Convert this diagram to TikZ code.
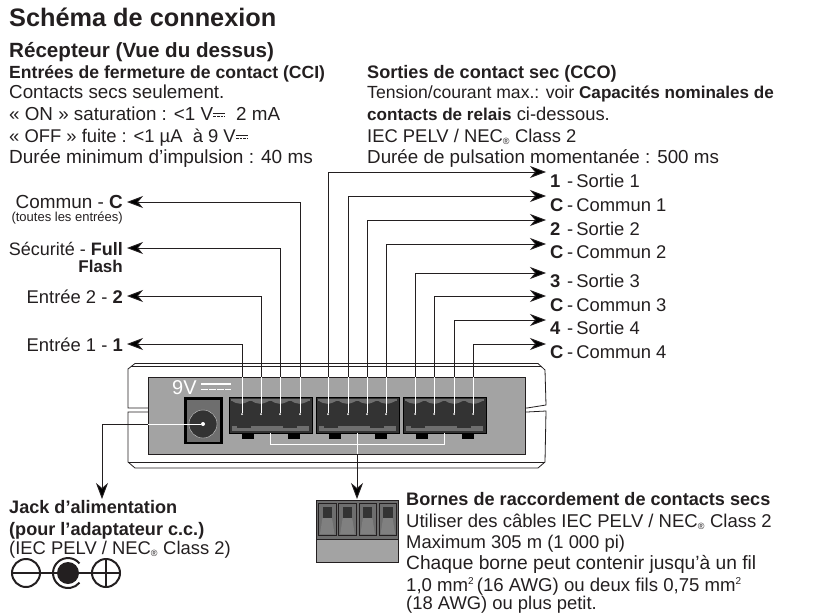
\documentclass[tikz,border=0pt]{standalone}
\usepackage{fontspec}
\setmainfont{Liberation Sans}
\usetikzlibrary{arrows.meta,positioning,calc}
\definecolor{ink}{HTML}{231F20}
\definecolor{facegray}{HTML}{A3A3A3}
\definecolor{midgray}{HTML}{6E6E6E}
\definecolor{portgray}{HTML}{333333}
\newcommand{\dcsym}{\tikz[baseline=0pt,x=1pt,y=1pt]{\draw[ink, line width=.6pt] (0,6.6)--(12,6.6); \draw[ink, line width=.6pt,dash pattern=on 2.6pt off 1pt] (0,3.6)--(12,3.6);}}
\newcommand{\regmark}{\textsubscript{\fontsize{9}{9}\selectfont ®}}
\newcommand{\sqmark}{\raisebox{7pt}{\fontsize{10}{10}\selectfont 2}}
\newcommand{\sz}[1]{\fontsize{#1}{21}\selectfont}
\begin{document}
\begin{tikzpicture}[x=1pt,y=-1pt,font=\fontsize{18.4}{21}\selectfont,text=ink]
  \tikzstyle{txt}=[inner sep=0pt, anchor=base west, align=left]
  \tikzstyle{head}=[txt, font=\fontsize{18.1}{21}\selectfont\bfseries]
  \tikzstyle{inlabel}=[inner sep=0pt, anchor=base east, align=right]
  \tikzstyle{wire}=[draw=ink, line width=.9pt]
  \tikzstyle{wirearrow}=[wire, -{Stealth[length=16pt,width=12pt,inset=5pt]}]
  \tikzstyle{whitewire}=[draw=white, line width=.9pt]
  \tikzstyle{pin}=[circle, fill=white, inner sep=0pt, minimum size=2pt]
  \tikzstyle{housing}=[draw=ink, line width=.8pt, fill=white]
  \tikzstyle{polar}=[circle, draw=ink, line width=2pt, minimum size=28pt, inner sep=0pt]
  \useasboundingbox (0,0) rectangle (827,613);

  % titres
  \node[txt, font=\fontsize{25.3}{28}\selectfont\bfseries] (title) at (9,26) {Schéma de connexion};
  \node[txt, font=\fontsize{20.6}{24}\selectfont\bfseries] (recv) at (9,57) {Récepteur (Vue du dessus)};

  % entrees
  \node[head, font=\fontsize{17.6}{21}\selectfont\bfseries] (cci) at (9,78) {Entrées de fermeture de contact (CCI)};
  \node[txt, font=\sz{18.8}] (cci1) at (9,98) {Contacts secs seulement.};
  \node[txt, font=\sz{18.8}] (cci2) at (9,120) {« ON » saturation : <1 V\dcsym\ \ 2 mA};
  \node[txt] (cci3) at (9,142) {« OFF » fuite : <1 µA \ à 9 V\dcsym};
  \node[txt, font=\sz{19}] (cci4) at (9,163) {Durée minimum d’impulsion : 40 ms};

  % sorties
  \node[head] (cco) at (367,78) {Sorties de contact sec (CCO)};
  \node[txt, font=\sz{17.6}] (cco1) at (367,98) {Tension/courant max.: voir {\sz{17.1}\bfseries Capacités nominales de}};
  \node[txt] (cco2) at (367,120) {{\sz{17.1}\bfseries contacts de relais} ci-dessous.};
  \node[txt] (cco3) at (367,142) {IEC PELV / NEC\regmark\ Class 2};
  \node[txt, font=\sz{18.8}] (cco4) at (367,163) {Durée de pulsation momentanée : 500 ms};

  % boitier
  \draw[housing] (128,408) -- (128,369) -- (135,363.5) -- (538,363.5) -- (545,370) -- (546,405) -- (527,408) -- cycle;
  \draw[housing] (128,412) -- (147,412) -- (527,412) -- (546,411) -- (545,462) -- (538,468) -- (135,468) -- (128,462) -- cycle;
  \draw[ink, line width=.6pt] (131,366.5) -- (541,366.5);
  \draw[ink, line width=.6pt] (128,462) -- (545,462);
  \draw[ink, line width=.8pt, fill=facegray] (148,377) -- (525,377) -- (525,454) -- (148,454) -- cycle;
  \node[txt, text=white, font=\fontsize{20}{22}\selectfont] (volt) at (172,394) {9V};
  \draw[white, line width=1.4pt] (201,384) -- (231,384);
  \draw[white, line width=1.6pt, dash pattern=on 6.5pt off 1.5pt] (201,389.5) -- (231,389.5);

  % jack
  \node[fill=black, minimum width=39pt, minimum height=47pt, inner sep=0pt] (jackbox) at (203.5,420.5) {};
  \node[fill=midgray, minimum width=33pt, minimum height=42pt, inner sep=0pt] (jackface) at (203.5,420.5) {};
  \node[circle, fill=portgray, draw=white!80!black, line width=.4pt, minimum size=28pt, inner sep=0pt] (jack) at (203,424) {};
  \node[circle, fill=white, minimum size=4pt, inner sep=0pt] (jackpin) at (203,424) {};

  % borniers
  \foreach \bx in {229,316,403}{
    \fill[portgray] (\bx,397) rectangle ++(83,36);
    \draw[black, line width=1pt] (\bx,397) rectangle ++(83,36);
    \fill[midgray] (\bx+2,399) rectangle ++(79,1.5);
    \foreach \k in {0,1,2,3}{
      \fill[midgray] (\bx+2+\k*19.75,400) .. controls (\bx+8+\k*19.75,405) and (\bx+14+\k*19.75,405) .. (\bx+21.75+\k*19.75,400) -- cycle;
    }
    \fill[midgray] (\bx+3,426) rectangle ++(77,5);
    \fill[portgray] (\bx+8,426) rectangle ++(14,2);
    \fill[portgray] (\bx+54,426) rectangle ++(14,2);
    \fill[black] (\bx+13,433) rectangle ++(11.5,5.5);
    \fill[black] (\bx+59,433) rectangle ++(12,5.5);
  }

  % bornes et fils
  \foreach \n/\px in {1/242,2/261,3/280,4/300,5/328,6/348,7/367,8/386,9/415,10/434,11/454,12/473}{
    \node[pin] (pin\n) at (\px,414) {};
    \coordinate (top\n) at (\px,377);
    \draw[whitewire] (pin\n) -- (top\n);
  }

  % etiquettes entrees
  \node[inlabel, font=\sz{18.9}] (inC) at (123,208) {Commun - \textbf{C}};
  \node[inlabel, font=\fontsize{13}{14}\selectfont] (inCsub) at (123,221) {(toutes les entrées)};
  \node[inlabel, font=\sz{18}] (inFull) at (123,255) {Sécurité - \textbf{Full}};
  \node[inlabel, font=\fontsize{17}{21}\selectfont\bfseries] (inFlash) at (123,272) {Flash};
  \node[inlabel] (inTwo) at (123,303) {Entrée 2 - \textbf{2}};
  \node[inlabel] (inOne) at (123,351) {Entrée 1 - \textbf{1}};
  \coordinate (inCend) at (127,202);
  \coordinate (inFullend) at (127,248);
  \coordinate (inTwoend) at (127,296);
  \coordinate (inOneend) at (127,344);
  \draw[wirearrow] (top4) |- (inCend);
  \draw[wirearrow] (top3) |- (inFullend);
  \draw[wirearrow] (top2) |- (inTwoend);
  \draw[wirearrow] (top1) |- (inOneend);

  % etiquettes sorties
  \foreach \n/\num/\lab/\ya/\yb/\wn in {1/1/Sortie 1/172/187/5,2/C/Commun 1/196/211/6,3/2/Sortie 2/220/235/7,4/C/Commun 2/244/258/8,5/3/Sortie 3/273/287/9,6/C/Commun 3/296/311/10,7/4/Sortie 4/320/334/11,8/C/Commun 4/344/358/12}{
    \node[txt] (out\n) at (550,\yb) {\makebox[17pt][l]{\textbf{\num}}-\,\lab};
    \coordinate (outend\n) at (546,\ya);
    \draw[wirearrow] (top\wn) |- (outend\n);
  }

  % fleche jack
  \coordinate (jackleft) at (148,424);
  \coordinate (jackturn) at (102,424);
  \coordinate (jackend) at (102,499);
  \draw[whitewire] (jackpin) -- (jackleft);
  \draw[wirearrow] (jackleft) -- (jackturn) -- (jackend);
  \node[head] (jacklab) at (9,513) {Jack d’alimentation};
  \node[head] (jacklabb) at (9,535) {(pour l’adaptateur c.c.)};
  \node[txt] (jacklabc) at (9,554) {(IEC PELV / NEC\regmark\ Class 2)};

  % symbole polarite
  \node[polar] (minus) at (26,573) {};
  \node[circle, fill=ink, minimum size=22pt, inner sep=0pt] (center) at (68,573) {};
  \node[polar] (plus) at (106,573) {};
  \draw[ink, line width=2pt] (79.5,563.4) arc (-40:-320:15);
  \draw[ink, line width=2pt] (minus.west) -- (center);
  \draw[ink, line width=2pt] (center) -- (plus.east);
  \draw[ink, line width=2pt] (plus.north) -- (plus.south);

  % connecteur
  \coordinate (busleft) at (270,433);
  \coordinate (busright) at (444,433);
  \coordinate (busmid) at (357,433);
  \coordinate (busout) at (357,454);
  \coordinate (busend) at (357,499);
  \draw[whitewire] (busleft) |- (busright |- 0,444) -- (busright);
  \draw[whitewire] (busmid) -- (busout);
  \draw[wirearrow] (busout) -- (busend);
  \node[draw=ink, fill=facegray, line width=.8pt, minimum width=82pt, minimum height=62pt, inner sep=0pt, anchor=north west] (conn) at (316,500) {};
  \fill[midgray] (316.5,500.5) rectangle (397.5,539);
  \draw[ink, line width=.8pt] (316,539) -- (398,539);
  \foreach \k in {0,1,2,3}{
    \draw[ink, line width=.8pt, fill=midgray] (318.5+\k*20.2,503.5) rectangle ++(17.5,31.5);
    \fill[portgray] (322.5+\k*20.2,507) rectangle ++(9.5,11);
    \fill[gray] (322.5+\k*20.2,518) -- (332+\k*20.2,518) -- (334.5+\k*20.2,534) -- (320+\k*20.2,534) -- cycle;
  }

  % texte bornes
  \node[head] (bornes) at (406,505) {Bornes de raccordement de contacts secs};
  \node[txt, font=\sz{18.5}] (bornesa) at (406,527) {Utiliser des câbles IEC PELV / NEC\regmark\ Class 2};
  \node[txt] (bornesb) at (406,548) {Maximum 305 m (1 000 pi)};
  \node[txt, font=\sz{19.2}] (bornesc) at (406,569) {Chaque borne peut contenir jusqu’à un fil};
  \node[txt, font=\sz{18.6}] (bornesd) at (406,591) {1,0 mm\sqmark\,(16 AWG) ou deux fils 0,75 mm\sqmark};
  \node[txt] (bornese) at (406,609) {(18 AWG) ou plus petit.};
\end{tikzpicture}
\end{document}
